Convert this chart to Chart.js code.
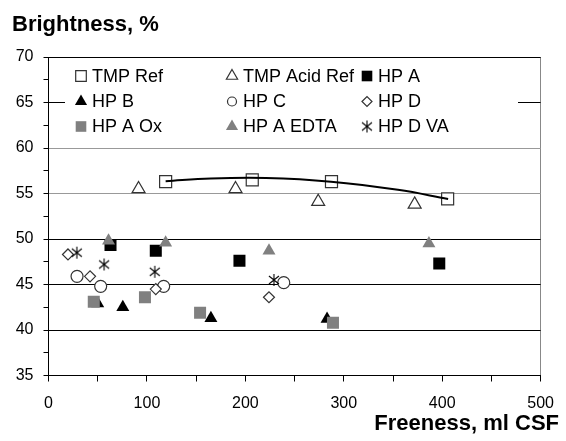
<!DOCTYPE html>
<html>
<head>
<meta charset="utf-8">
<script src="https://cdn.jsdelivr.net/npm/chart.js@4/dist/chart.umd.min.js"></script>
<style>
  body { margin: 0; background: #fff; }
  canvas { display: block; }
</style>
</head>
<body>
<canvas id="brightness" width="566" height="441"></canvas>
<script>
// values (freeness ml CSF / brightness %)
const tmpRefX = [119, 207, 287.5, 405.5];
const tmpRefY = [56.3, 56.5, 56.3, 54.4];
const tmpAcidX = [91.5, 190, 274, 372];
const tmpAcidY = [55.5, 55.5, 54.1, 53.8];
const hpAX = [63, 109, 194, 397];
const hpAY = [49.35, 48.7, 47.6, 47.3];
const hpBX = [50, 75.5, 165, 283];
const hpBY = [42.9, 42.5, 41.3, 41.2];
const hpCX = [29, 53, 117, 239];
const hpCY = [45.9, 44.8, 44.8, 45.2];
const hpDX = [19.8, 42.2, 109, 224];
const hpDY = [48.3, 45.9, 44.5, 43.6];
const hpAOxX = [46, 98, 154, 289];
const hpAOxY = [43.1, 43.6, 41.9, 40.8];
const hpAEdtaX = [61, 119, 224, 386.5];
const hpAEdtaY = [49.8, 49.6, 48.7, 49.5];
const hpDVaX = [28.8, 56.5, 108, 229];
const hpDVaY = [48.5, 47.2, 46.4, 45.5];
// trend line through the TMP Ref points
const trendX = [119, 165, 221, 287, 355, 406];
const trendY = [56.35, 56.65, 56.7, 56.3, 55.4, 54.4];

const xTicksLabelled = [0, 100, 200, 300, 400, 500];
const yTicksLabelled = [35, 40, 45, 50, 55, 60, 65, 70];

const font = "'Liberation Sans', Arial, sans-serif";
const gray = '#808080';

const pts = (xs, ys) => xs.map((x, i) => ({ x: x, y: ys[i] }));

// spreadsheet style star: an X with a vertical bar
function starMarker(size) {
  const c = document.createElement('canvas');
  c.width = size; c.height = size;
  const g = c.getContext('2d');
  const m = size / 2;
  g.strokeStyle = '#000';
  g.lineWidth = 1.1;
  g.beginPath();
  g.moveTo(m - 5, m - 4); g.lineTo(m + 5, m + 4);
  g.moveTo(m + 5, m - 4); g.lineTo(m - 5, m + 4);
  g.moveTo(m, m - 6); g.lineTo(m, m + 6);
  g.stroke();
  return c;
}
const star = starMarker(14);

const openMark = { backgroundColor: '#fff', borderColor: '#333', borderWidth: 1.2 };
const blackMark = { backgroundColor: '#000', borderColor: '#000', borderWidth: 0 };
const grayMark = { backgroundColor: gray, borderColor: gray, borderWidth: 0 };

const datasets = [
  { label: 'TMP Ref', data: pts(tmpRefX, tmpRefY), pointStyle: 'rect', pointRadius: 8.5, legendRadius: 7.5, ...openMark },
  { label: 'TMP Acid Ref', data: pts(tmpAcidX, tmpAcidY), pointStyle: 'triangle', pointRadius: 7.5, legendRadius: 6.5, ...openMark },
  { label: 'HP A', data: pts(hpAX, hpAY), pointStyle: 'rect', pointRadius: 8.5, legendRadius: 7.5, ...blackMark },
  { label: 'HP B', data: pts(hpBX, hpBY), pointStyle: 'triangle', pointRadius: 7.5, legendRadius: 7, ...blackMark },
  { label: 'HP C', data: pts(hpCX, hpCY), pointStyle: 'circle', pointRadius: 6, legendRadius: 4.5, ...openMark },
  { label: 'HP D', data: pts(hpDX, hpDY), pointStyle: 'rectRot', pointRadius: 5.5, legendRadius: 5, ...openMark },
  { label: 'HP A Ox', data: pts(hpAOxX, hpAOxY), pointStyle: 'rect', pointRadius: 8.5, legendRadius: 7.5, ...grayMark },
  { label: 'HP A EDTA', data: pts(hpAEdtaX, hpAEdtaY), pointStyle: 'triangle', pointRadius: 7.5, legendRadius: 7, ...grayMark },
  { label: 'HP D VA', data: pts(hpDVaX, hpDVaY), pointStyle: star, pointRadius: 7, legendRadius: 7, borderWidth: 0 },
];
// later series sit on top, like the original
datasets.forEach((d, i) => { d.order = datasets.length - i; });

datasets.push({
  label: 'trend', data: pts(trendX, trendY), showLine: true, pointRadius: 0,
  borderColor: '#000', borderWidth: 2, tension: 0.4, order: 0, inLegend: false
});

// legend drawn inside the plot, three columns
const legendCols = [81, 232, 367];
const legendRows = [76, 101.5, 126.5];

const insideLegend = {
  id: 'insideLegend',
  afterDraw(chart) {
    const ctx = chart.ctx;
    ctx.save();
    ctx.fillStyle = '#fff';
    ctx.fillRect(65, 62, 453, 78);
    const items = chart.data.datasets.filter(d => d.inLegend !== false);
    items.forEach((d, i) => {
      const x = legendCols[i % 3];
      const y = legendRows[Math.floor(i / 3)];
      ctx.fillStyle = d.backgroundColor || '#000';
      ctx.strokeStyle = d.borderColor || '#000';
      ctx.lineWidth = d.borderWidth || 0;
      Chart.helpers.drawPoint(ctx, {
        pointStyle: d.pointStyle, radius: d.legendRadius, rotation: 0, borderWidth: d.borderWidth || 0
      }, x, y);
      ctx.fillStyle = '#000';
      ctx.font = '18px ' + font;
      ctx.textAlign = 'left';
      ctx.textBaseline = 'middle';
      ctx.fillText(d.label, x + 11, y + 1);
    });
    ctx.restore();
  }
};

const axisTitles = {
  id: 'axisTitles',
  afterDraw(chart) {
    const ctx = chart.ctx;
    ctx.save();
    ctx.fillStyle = '#000';
    ctx.font = 'bold 22px ' + font;
    ctx.textBaseline = 'alphabetic';
    ctx.textAlign = 'left';
    ctx.fillText('Brightness, %', 12, 31);
    ctx.textAlign = 'right';
    ctx.fillText('Freeness, ml CSF', 559, 430);
    ctx.restore();
  }
};

const yGridColor = c => {
  const v = c.tick.value;
  if (!yTicksLabelled.includes(v) || v === 35) return 'rgba(0,0,0,0)';
  if (v === 55 || v === 60) return '#999';
  return '#000';
};

new Chart(document.getElementById('brightness').getContext('2d'), {
  type: 'scatter',
  data: { datasets: datasets },
  plugins: [insideLegend, axisTitles],
  options: {
    responsive: false,
    devicePixelRatio: 1,
    animation: false,
    events: [],
    layout: { padding: { top: 57, right: 16, bottom: 0, left: 0 } },
    plugins: { legend: { display: false }, tooltip: { enabled: false }, title: { display: false } },
    scales: {
      x: {
        type: 'linear', min: 0, max: 500,
        ticks: {
          stepSize: 50, autoSkip: false, maxRotation: 0, color: '#000', padding: 12,
          font: { family: font, size: 16 },
          callback: v => xTicksLabelled.includes(v) ? v : ''
        },
        grid: {
          color: c => c.tick.value === 500 ? '#888' : 'rgba(0,0,0,0)',
          tickColor: '#000', tickLength: 6
        },
        border: { color: '#000', width: 1 },
        afterFit: s => { s.height = 65.5; }
      },
      y: {
        type: 'linear', min: 35, max: 70,
        ticks: {
          stepSize: 2.5, autoSkip: false, color: '#000', padding: 10,
          font: { family: font, size: 16 },
          callback: v => yTicksLabelled.includes(v) ? v : ''
        },
        grid: { color: yGridColor, tickColor: '#000', tickLength: 5 },
        border: { color: '#000', width: 1 },
        afterFit: s => { s.width = 48.5; }
      }
    }
  }
});
</script>
</body>
</html>
